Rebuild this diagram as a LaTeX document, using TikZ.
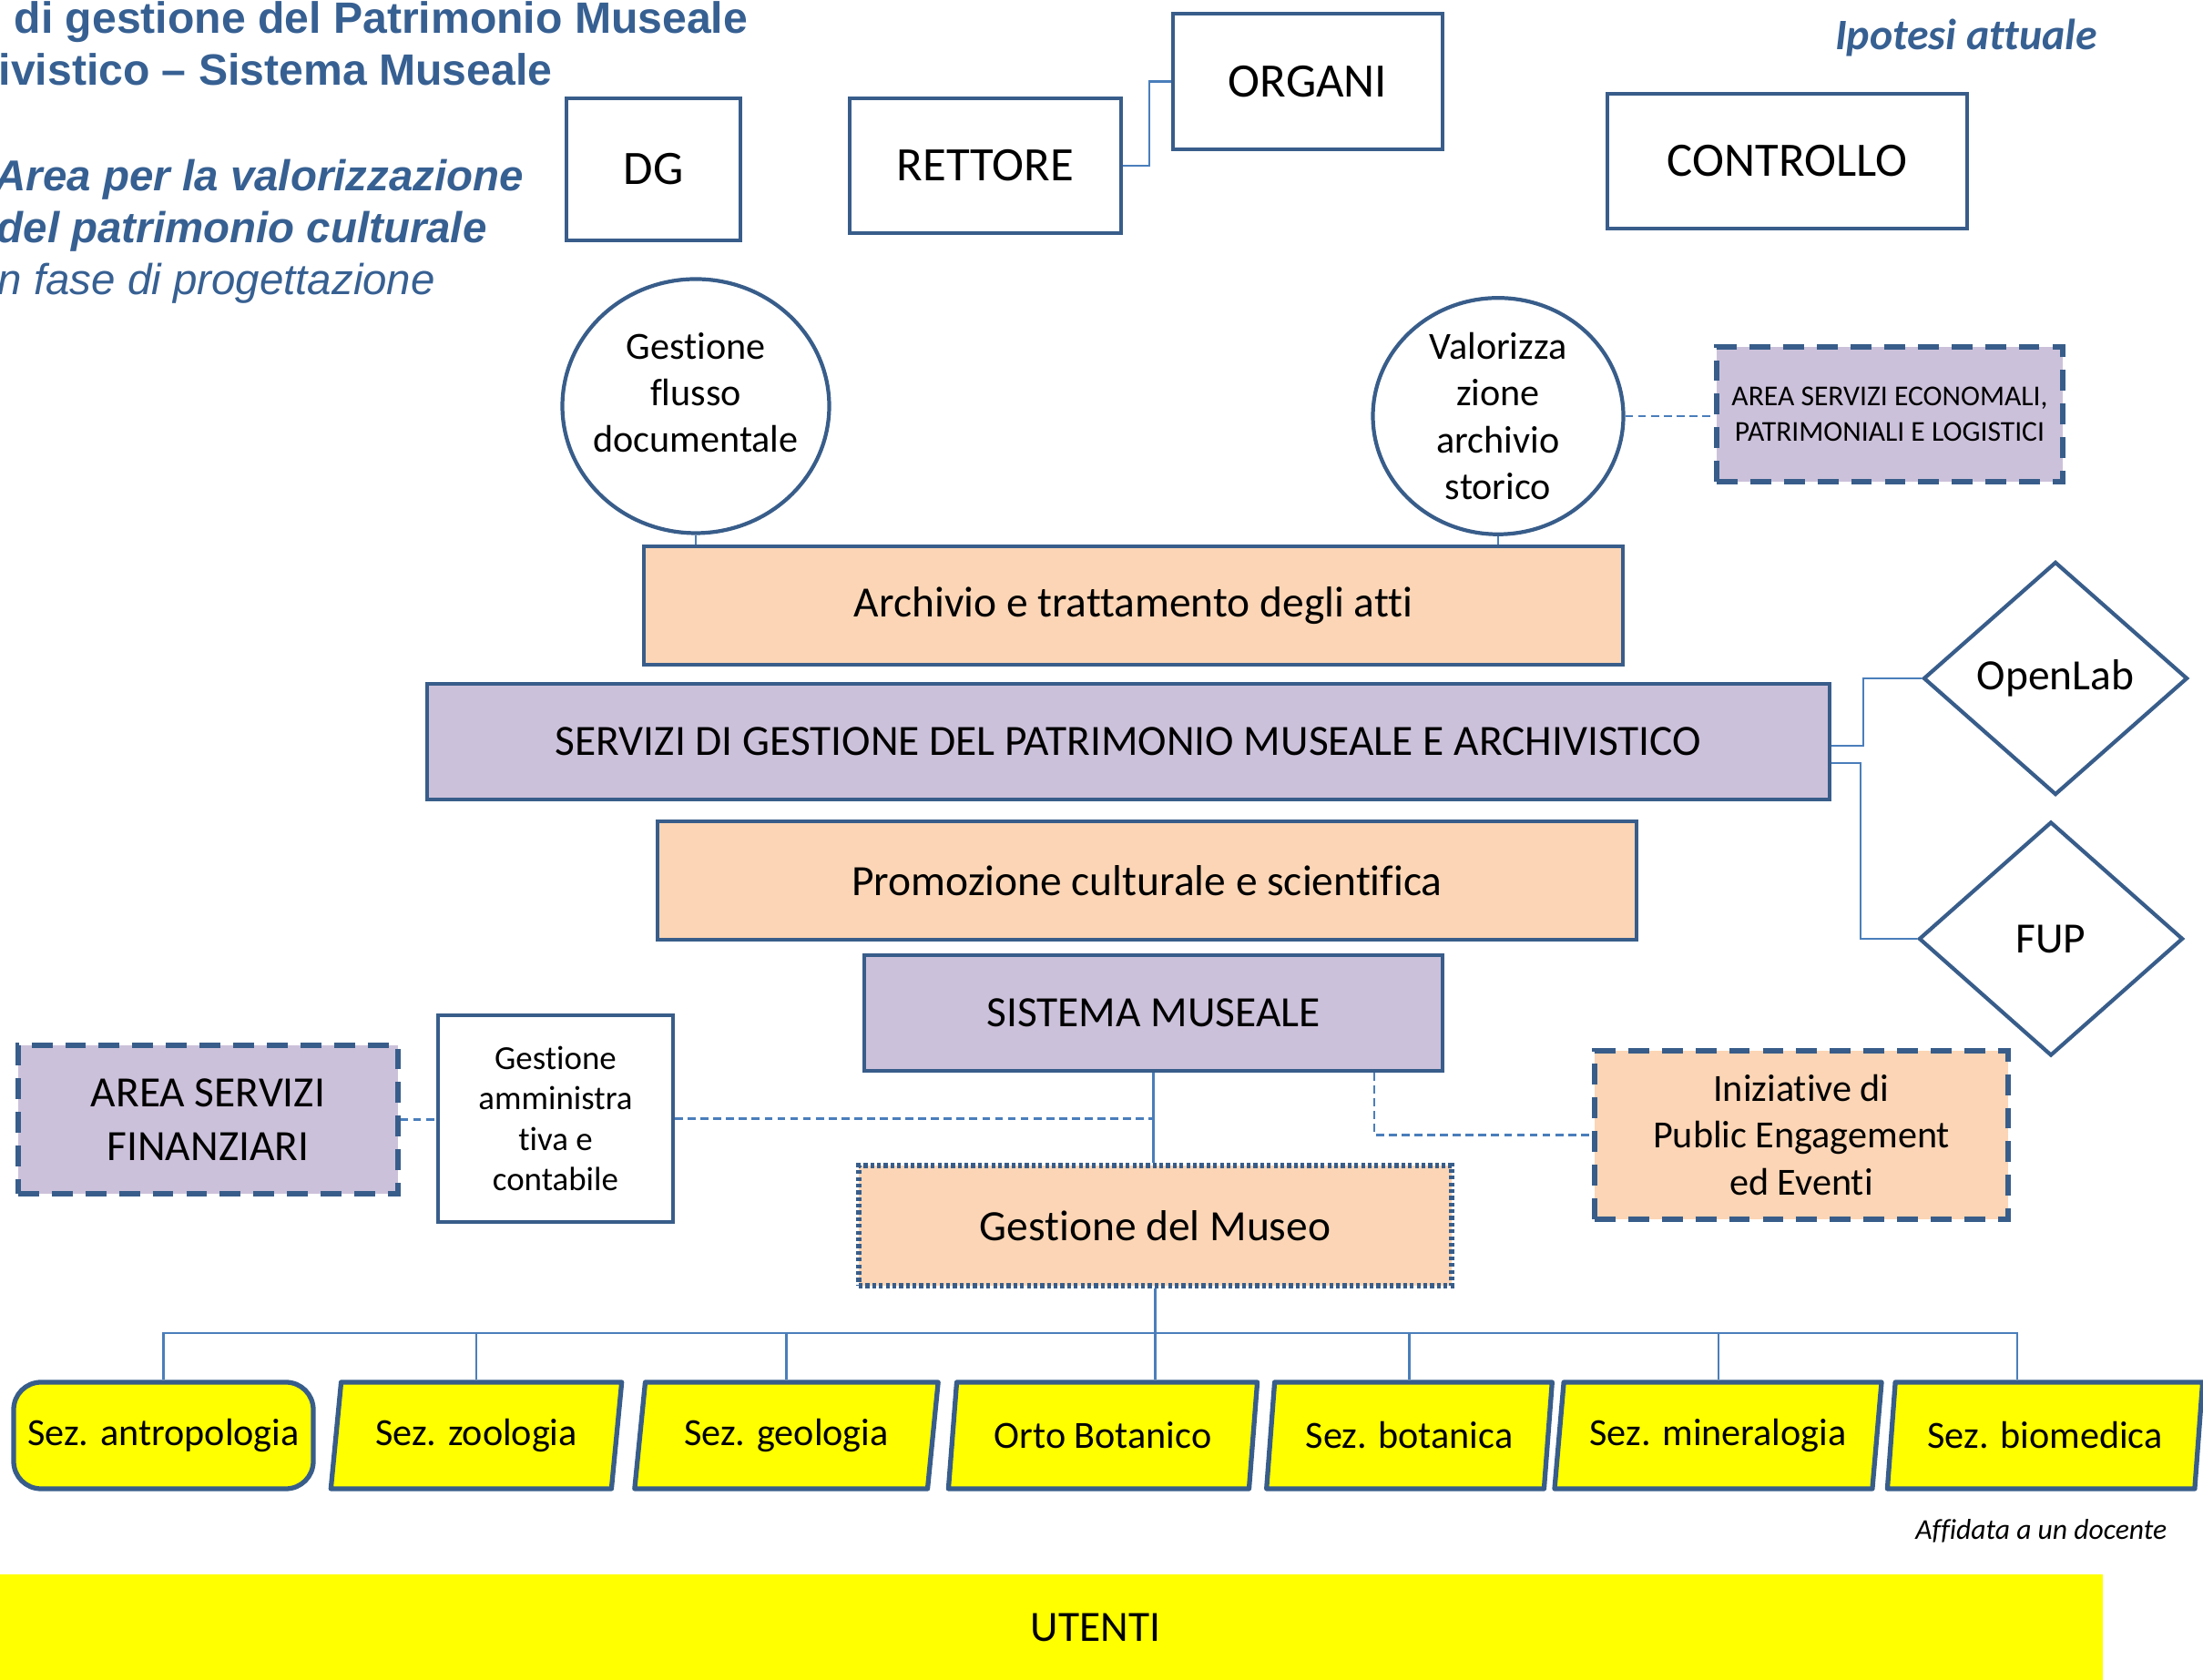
\documentclass[tikz,border=0pt]{standalone}
\usepackage{fontspec}
\setmainfont{Carlito}[Ligatures=NoCommon]
\newfontfamily\arialfont{Liberation Sans}
\usetikzlibrary{shapes.geometric}

\definecolor{boxblue}{RGB}{56,93,138}
\definecolor{linkblue}{RGB}{74,126,187}
\definecolor{titleblue}{RGB}{55,96,146}
\definecolor{peach}{RGB}{251,213,181}
\definecolor{lilac}{RGB}{204,193,218}
\definecolor{sezyellow}{RGB}{255,255,0}

\begin{document}
\begin{tikzpicture}[auto,every node/.style={inner sep=0pt},
    plain box/.style={rectangle,draw=boxblue,line width=1.2pt,align=center,font=\fontsize{15}{18}\selectfont},
    peach box/.style={plain box,fill=peach,font=\fontsize{13.5}{16}\selectfont},
    lilac box/.style={plain box,fill=lilac,font=\fontsize{13.5}{16}\selectfont},
    dashed box/.style={line width=1.5pt,dash pattern=on 6.5pt off 4pt},
    dotted box/.style={line width=1.6pt,dash pattern=on 1.2pt off 0.9pt},
    round node/.style={ellipse,draw=boxblue,line width=1.2pt,align=center,font=\fontsize{12}{14.6}\selectfont},
    kite/.style={diamond,draw=boxblue,line width=1.2pt,font=\fontsize{13.5}{16}\selectfont},
    sez base/.style={draw=boxblue,fill=sezyellow,line width=1.5pt,line join=round,minimum height=1.17cm,font=\fontsize{12}{14}\selectfont},
    sez node/.style={sez base,trapezium,trapezium left angle=77,trapezium right angle=103,trapezium stretches=true},
    title/.style={anchor=base west,text=titleblue,font=\arialfont\fontsize{13.6}{16}\selectfont},
    link/.style={draw=linkblue,line width=0.6pt},
    dash link/.style={link,dash pattern=on 2.5pt off 1.5pt}]
    \useasboundingbox (0,0) rectangle (24.19,18.45);

    % titolo
    \node[title,font=\arialfont\fontsize{13.7}{16}\selectfont\bfseries] at (0.15, 18.08) (tit1) {di gestione del Patrimonio Museale};
    \node[title,font=\arialfont\fontsize{13.7}{16}\selectfont\bfseries] at (-0.02, 17.51) (tit2) {ivistico – Sistema Museale};
    \node[title,font=\arialfont\fontsize{13.5}{16}\selectfont\bfseries\itshape] at (-0.06, 16.35) (tit3) {Area per la valorizzazione};
    \node[title,font=\arialfont\fontsize{13.5}{16}\selectfont\bfseries\itshape] at (-0.04, 15.78) (tit4) {del patrimonio culturale};
    \node[title,font=\arialfont\fontsize{13.5}{16}\selectfont\itshape] at (-0.03, 15.21) (tit5) {n fase di progettazione};
    \node[text=titleblue,font=\fontsize{13.6}{16}\selectfont\bfseries\itshape] at (21.59, 18.03) (ipotesi) {Ipotesi attuale};

    % vertice
    \node[plain box,minimum width=1.91cm,minimum height=1.56cm] at (7.175, 16.59) (dg) {DG};
    \node[plain box,minimum width=2.98cm,minimum height=1.48cm] at (10.82, 16.63) (rettore) {RETTORE};
    \node[plain box,minimum width=2.96cm,minimum height=1.49cm] at (14.36, 17.555) (organi) {ORGANI};
    \node[plain box,minimum width=3.95cm,minimum height=1.48cm] at (19.625, 16.68) (controllo) {CONTROLLO};

    % archivio
    \node[round node,inner xsep=-0.1cm,minimum width=2.93cm,minimum height=2.79cm] at (7.64, 13.99) (flusso) {Gestione\\flusso\\documentale\\[-6pt]\mbox{}};
    \node[round node,minimum width=2.75cm,minimum height=2.59cm] at (16.45, 13.88) (storico) {Valorizza\\zione\\archivio\\storico};
    \node[lilac box,dashed box,minimum width=3.80cm,minimum height=1.48cm,font=\fontsize{9}{11}\selectfont] at (20.75, 13.90) (economali) {AREA SERVIZI ECONOMALI,\\PATRIMONIALI E LOGISTICI};
    \node[peach box,minimum width=10.75cm,minimum height=1.30cm] at (12.445, 11.80) (archivio) {Archivio e trattamento degli atti};

    % servizi
    \node[lilac box,minimum width=15.40cm,minimum height=1.27cm] at (12.39, 10.305) (servizi) {SERVIZI DI GESTIONE DEL PATRIMONIO MUSEALE E ARCHIVISTICO};
    \node[kite,minimum width=2.90cm,minimum height=2.56cm] at (22.57, 11.00) (openlab) {OpenLab};
    \node[kite,minimum width=2.90cm,minimum height=2.57cm] at (22.52, 8.14) (fup) {FUP};
    \node[peach box,minimum width=10.75cm,minimum height=1.30cm] at (12.595, 8.78) (promozione) {Promozione culturale e scientifica};

    % sistema museale
    \node[lilac box,minimum width=6.35cm,minimum height=1.27cm] at (12.665, 7.325) (sistema) {SISTEMA MUSEALE};
    \node[peach box,dotted box,minimum width=6.51cm,minimum height=1.32cm] at (12.685, 4.99) (museo) {Gestione del Museo};
    \node[lilac box,dashed box,minimum width=4.17cm,minimum height=1.63cm,font=\fontsize{13.5}{16.7}\selectfont] at (2.285, 6.155) (finanziari) {AREA SERVIZI\\FINANZIARI};
    \node[plain box,minimum width=2.58cm,minimum height=2.27cm,font=\fontsize{10.5}{12.7}\selectfont] at (6.10, 6.165) (amministrativa) {Gestione\\amministra\\tiva e\\contabile};
    \node[peach box,dashed box,minimum width=4.54cm,minimum height=1.85cm,font=\fontsize{12}{14.7}\selectfont] at (19.78, 5.985) (iniziative) {Iniziative di\\Public Engagement\\ed Eventi};

    % sezioni
    \node[sez base,rectangle,rounded corners=0.3cm,minimum width=3.29cm] at (1.795, 2.685) (antropologia) {Sez. antropologia};
    \node[sez node,minimum width=3.20cm] at (5.23, 2.685) (zoologia) {Sez. zoologia};
    \node[sez node,minimum width=3.35cm] at (8.635, 2.685) (geologia) {Sez. geologia};
    \node[sez node,minimum width=3.40cm] at (12.11, 2.685) (orto) {Orto Botanico};
    \node[sez node,minimum width=3.15cm] at (15.475, 2.685) (botanica) {Sez. botanica};
    \node[sez node,minimum width=3.61cm] at (18.865, 2.685) (mineralogia) {Sez. mineralogia};
    \node[sez node,minimum width=3.47cm] at (22.455, 2.685) (biomedica) {Sez. biomedica};
    \node[anchor=base east,font=\fontsize{9}{11}\selectfont\itshape] at (23.80, 1.54) (affidata) {Affidata a un docente};

    \node[fill=sezyellow,minimum width=23.09cm,minimum height=1.16cm,font=\fontsize{13.5}{16}\selectfont] at (11.545, 0.58) (utenti) {\hspace*{0.97cm}UTENTI};

    % collegamenti
    \draw[link] (rettore.east) -- ++(0.29,0) |- (organi.west);
    \draw[link] (flusso.south) -- (flusso.south |- archivio.north);
    \draw[link] (storico.south) -- (storico.south |- archivio.north);
    \draw[dash link] (storico.east) -- (storico.east -| economali.west);
    \draw[link] ([yshift=-0.045cm]servizi.east) -- ++(0.35,0) |- (openlab.west);
    \draw[link] ([yshift=-0.235cm]servizi.east) -- ++(0.32,0) |- (fup.west);
    \draw[link] (sistema.south) -- (sistema.south |- museo.north);
    \draw[dash link] (finanziari.east) -- (finanziari.east -| amministrativa.west);
    \draw[dash link] (amministrativa.east) -- (amministrativa.east -| sistema.south);
    \draw[dash link] ([xshift=2.425cm]sistema.south) |- (iniziative.west);

    \coordinate (bus) at (12.685, 3.81);
    \draw[link] (museo.south) -- (bus);
    \foreach \sez in {antropologia,zoologia,geologia,botanica,mineralogia}
        \draw[link] (bus) -| (\sez.north);
    \draw[link] (bus) -- (bus |- orto.north);
    \draw[link] (bus) -| ([xshift=-0.31cm]biomedica.north);
\end{tikzpicture}
\end{document}
